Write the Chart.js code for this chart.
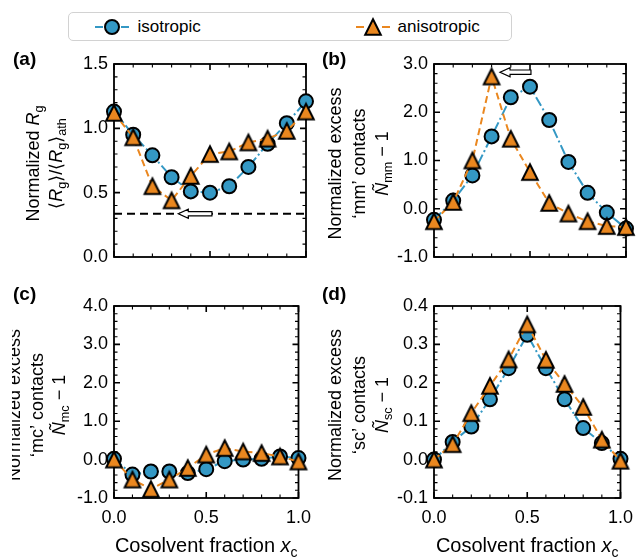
<!DOCTYPE html>
<html lang="en">
<head>
  <meta charset="UTF-8">
  <title>Normalized Rg and excess contacts vs cosolvent fraction</title>
  <script src="https://cdn.jsdelivr.net/npm/chart.js"></script>
  <style>
    body { margin: 0; background: #fff; font-family: "Liberation Sans", Arial, Helvetica, sans-serif; }
    #page { position: relative; width: 642px; height: 558px; overflow: hidden; }
    #page canvas.panel { position: absolute; }
    #legend { position: absolute; left: 68px; top: 12px; width: 442px; height: 27px;
              border: 1.5px solid #d2d2d2; border-radius: 5px; }
    #legend canvas, #legend span { position: absolute; }
    #legend span { font-size: 17px; line-height: 20px; top: 3.5px; color: #000; }
  </style>
</head>
<body>
<div id="page">
  <div id="legend">
    <canvas id="legIso" width="40" height="20" style="left:22.5px;top:3.5px"></canvas>
    <span style="left:68.5px">isotropic</span>
    <canvas id="legAniso" width="40" height="20" style="left:283.5px;top:3.5px"></canvas>
    <span style="left:328.5px">anisotropic</span>
  </div>
  <canvas class="panel" id="panelA" width="320" height="236" style="left:0;top:44px"></canvas>
  <canvas class="panel" id="panelB" width="322" height="236" style="left:320px;top:44px"></canvas>
  <canvas class="panel" id="panelC" width="320" height="278" style="left:0;top:280px"></canvas>
  <canvas class="panel" id="panelD" width="322" height="278" style="left:320px;top:280px"></canvas>
</div>

<script>
  // cosolvent fraction x_c (same for all panels)
  const xFraction = [0.0, 0.1, 0.2, 0.3, 0.4, 0.5, 0.6, 0.7, 0.8, 0.9, 1.0];

  // (a) normalized radius of gyration
  const rgIso   = [1.13, 0.95, 0.79, 0.62, 0.51, 0.50, 0.55, 0.70, 0.88, 1.04, 1.21];
  const rgAniso = [1.12, 0.93, 0.55, 0.44, 0.63, 0.80, 0.82, 0.89, 0.92, 0.98, 1.13];
  const rgRefLevel = 0.336;               // dashed horizontal reference

  // (b) excess 'mm' contacts
  const mmIso   = [-0.23, 0.17, 0.69, 1.50, 2.31, 2.53, 1.84, 0.97, 0.33, -0.08, -0.41];
  const mmAniso = [-0.26, 0.14, 1.00, 2.74, 1.45, 0.76, 0.12, -0.10, -0.26, -0.36, -0.38];

  // (c) excess 'mc' contacts
  const mcIso   = [0.02, -0.39, -0.31, -0.31, -0.35, -0.25, -0.04, 0.00, 0.02, 0.08, 0.04];
  const mcAniso = [0.00, -0.52, -0.77, -0.52, -0.22, 0.13, 0.30, 0.21, 0.17, 0.08, -0.05];

  // (d) excess 'sc' contacts
  const scIso   = [0.000, 0.046, 0.086, 0.157, 0.238, 0.325, 0.238, 0.157, 0.082, 0.043, 0.002];
  const scAniso = [0.000, 0.040, 0.121, 0.192, 0.261, 0.352, 0.260, 0.197, 0.137, 0.052, -0.003];

  // arrows (tail -> tip, data coords)
  const arrowA = [[0.51, 0.336], [0.335, 0.336]];
  const arrowB = [[0.505, 2.83], [0.344, 2.83]];

  // tick labels
  const xTicks  = [0.0, 0.5, 1.0];
  const yTicksA = [0.0, 0.5, 1.0, 1.5];
  const yTicksB = [-1.0, 0.0, 1.0, 2.0, 3.0];
  const yTicksC = [-1.0, 0.0, 1.0, 2.0, 3.0, 4.0];
  const yTicksD = [-0.1, 0.0, 0.1, 0.2, 0.3, 0.4];

  const FONT = '"Liberation Sans", Arial, Helvetica, sans-serif';
  const BLUE = '#3498c4';
  const ORANGE = '#ea871f';
  const DASH_ISO = [10, 3, 2, 3];
  const DASH_ANISO = [7, 4];

  Chart.defaults.font.family = FONT;
  Chart.defaults.color = '#000';

  function triangleMarker(color) {
    const c = document.createElement('canvas');
    c.width = 22; c.height = 22;
    const g = c.getContext('2d');
    g.beginPath();
    g.moveTo(11, 3.2); g.lineTo(18.8, 18.8); g.lineTo(3.2, 18.8); g.closePath();
    g.fillStyle = color; g.fill();
    g.lineWidth = 2; g.strokeStyle = '#000'; g.stroke();
    return c;
  }
  const TRI = triangleMarker(ORANGE);

  // rich text helpers (italic / subscript parts)
  function partFont(p, size) {
    return (p.i ? 'italic ' : '') + (p.sub ? size * 0.7 : size) + 'px ' + FONT;
  }
  function richWidth(ctx, parts, size) {
    let w = 0;
    parts.forEach(p => { ctx.font = partFont(p, size); w += ctx.measureText(p.t).width; });
    return w;
  }
  function drawRich(ctx, parts, x, y, size) {
    parts.forEach(p => {
      ctx.font = partFont(p, size);
      ctx.fillText(p.t, x, y + (p.sub ? size * 0.24 : 0));
      x += ctx.measureText(p.t).width;
    });
  }

  function drawArrow(ctx, x0, y0, x1) {
    const dir = Math.sign(x1 - x0);
    const headLen = 10, headHalf = 4.5, shaftHalf = 2.2;
    const xb = x1 - dir * headLen;
    ctx.beginPath();
    ctx.moveTo(x0, y0 - shaftHalf);
    ctx.lineTo(xb, y0 - shaftHalf);
    ctx.lineTo(xb, y0 - headHalf);
    ctx.lineTo(x1, y0);
    ctx.lineTo(xb, y0 + headHalf);
    ctx.lineTo(xb, y0 + shaftHalf);
    ctx.lineTo(x0, y0 + shaftHalf);
    ctx.closePath();
    ctx.fillStyle = '#fff';
    ctx.fill();
    ctx.lineWidth = 1.2;
    ctx.strokeStyle = '#000';
    ctx.stroke();
  }

  // frame on all four sides with inward major + minor ticks
  const framePlugin = {
    id: 'frame',
    beforeDatasetsDraw(chart, args, opts) {
      const { ctx, chartArea: a, scales } = chart;
      ctx.save();
      ctx.strokeStyle = '#000';
      [true, false].forEach(major => {
        ctx.beginPath();
        ctx.lineWidth = major ? 1.6 : 1.1;
        ['x', 'y'].forEach(id => {
          const s = scales[id];
          const step = id === 'x' ? opts.minorX : opts.minorY;
          const n = Math.round((s.max - s.min) / step);
          for (let k = 0; k <= n; k++) {
            const v = s.min + k * step;
            const isMajor = s.ticks.some(t => Math.abs(t.value - v) < step / 10);
            if (isMajor !== major) continue;
            const len = major ? 6 : 3.5;
            const p = s.getPixelForValue(v);
            if (id === 'x') {
              ctx.moveTo(p, a.bottom); ctx.lineTo(p, a.bottom - len);
              ctx.moveTo(p, a.top); ctx.lineTo(p, a.top + len);
            } else {
              ctx.moveTo(a.left, p); ctx.lineTo(a.left + len, p);
              ctx.moveTo(a.right, p); ctx.lineTo(a.right - len, p);
            }
          }
        });
        ctx.stroke();
      });
      ctx.lineWidth = 1.8;
      ctx.strokeRect(a.left, a.top, a.right - a.left, a.bottom - a.top);
      ctx.restore();
    },
    afterDatasetsDraw(chart, args, opts) {
      if (!opts.arrow) return;
      const { ctx, scales: { x, y } } = chart;
      const [tail, tip] = opts.arrow;
      ctx.save();
      drawArrow(ctx, x.getPixelForValue(tail[0]), y.getPixelForValue(tail[1]), x.getPixelForValue(tip[0]));
      ctx.restore();
    },
    afterDraw(chart, args, opts) {
      const { ctx, chartArea: a } = chart;
      ctx.save();
      ctx.fillStyle = '#000';
      // panel letter
      ctx.font = 'bold 19px ' + FONT;
      ctx.textBaseline = 'alphabetic';
      ctx.fillText(opts.letter, opts.letterX, opts.letterY);
      // rotated multi-line y label
      if (opts.clipLeft) {
        ctx.beginPath();
        ctx.rect(opts.clipLeft, 0, chart.width, chart.height);
        ctx.clip();
      }
      const cy = (a.top + a.bottom) / 2 + 3;
      opts.ylabel.forEach((parts, i) => {
        const w = richWidth(ctx, parts, 18);
        ctx.save();
        ctx.translate(opts.ylabelBase[i], cy);
        ctx.rotate(-Math.PI / 2);
        drawRich(ctx, parts, -w / 2, 0, 18);
        ctx.restore();
      });
      ctx.restore();
      // x title
      if (opts.xtitle) {
        ctx.save();
        const parts = [{ t: 'Cosolvent fraction ' }, { t: 'x', i: 1 }, { t: 'c', sub: 1 }];
        const w = richWidth(ctx, parts, 20);
        ctx.fillStyle = '#000';
        drawRich(ctx, parts, (a.left + a.right) / 2 - w / 2, chart.height - 6, 20);
        ctx.restore();
      }
    }
  };

  function series(label, values, color, dash, style, order) {
    return {
      label: label,
      data: xFraction.map((x, i) => ({ x: x, y: values[i] })),
      borderColor: color,
      backgroundColor: color,
      borderWidth: 2,
      borderDash: dash,
      pointStyle: style,
      pointRadius: 7,
      pointBackgroundColor: color,
      pointBorderColor: '#000',
      pointBorderWidth: 2,
      clip: false,
      order: order
    };
  }

  function makePanel(id, cfg) {
    const el = document.getElementById(id);
    const datasets = [
      series('anisotropic', cfg.aniso, ORANGE, DASH_ANISO, TRI, 0),
      series('isotropic', cfg.iso, BLUE, DASH_ISO, 'circle', 1)
    ];
    if (cfg.refLevel !== undefined) {
      datasets.push({
        label: 'reference',
        data: [{ x: 0, y: cfg.refLevel }, { x: 1, y: cfg.refLevel }],
        borderColor: '#000', borderWidth: 2, borderDash: [8, 5],
        pointRadius: 0, clip: false, order: 2
      });
    }
    return new Chart(el, {
      type: 'line',
      data: { datasets: datasets },
      options: {
        responsive: false,
        animation: false,
        events: [],
        layout: { padding: { left: 0, right: el.width - 306, top: cfg.top, bottom: 0 } },
        scales: {
          x: {
            type: 'linear', min: 0, max: 1,
            afterBuildTicks: s => { s.ticks = xTicks.map(v => ({ value: v })); },
            afterFit: s => { s.height = el.height - cfg.top - cfg.plotH; },
            grid: { display: false, drawTicks: false },
            border: { display: false },
            ticks: { display: cfg.showX, padding: 9, font: { size: 18 }, color: '#000',
                     maxRotation: 0, callback: v => v.toFixed(1) }
          },
          y: {
            type: 'linear', min: cfg.yTicks[0], max: cfg.yTicks[cfg.yTicks.length - 1],
            afterBuildTicks: s => { s.ticks = cfg.yTicks.map(v => ({ value: v })); },
            afterFit: s => { s.width = 114; },
            grid: { display: false, drawTicks: false },
            border: { display: false },
            ticks: { padding: 6, font: { size: 18 }, color: '#000', callback: v => v.toFixed(1) }
          }
        },
        plugins: {
          legend: { display: false },
          tooltip: { enabled: false },
          frame: {
            minorX: 0.1, minorY: cfg.minorY, arrow: cfg.arrow,
            letter: cfg.letter, letterX: cfg.letterX, letterY: cfg.letterY,
            ylabel: cfg.ylabel, ylabelBase: cfg.ylabelBase, clipLeft: cfg.clipLeft,
            xtitle: cfg.showX
          }
        }
      },
      plugins: [framePlugin]
    });
  }

  const excessLabel = (pair, sub) => [
    [{ t: 'Normalized excess' }],
    [{ t: '\u2018' + pair + '\u2019 contacts' }],
    [{ t: '\u00D1', i: 1 }, { t: sub, sub: 1 }, { t: ' \u2212 1' }]
  ];

  makePanel('panelA', {
    iso: rgIso, aniso: rgAniso, refLevel: rgRefLevel, arrow: arrowA,
    yTicks: yTicksA, minorY: 0.1, top: 20, plotH: 193, showX: false,
    letter: '(a)', letterX: 13, letterY: 21,
    ylabel: [
      [{ t: 'Normalized ' }, { t: 'R', i: 1 }, { t: 'g', sub: 1 }],
      [{ t: '\u27E8' }, { t: 'R', i: 1 }, { t: 'g', sub: 1 }, { t: '\u27E9/\u27E8' },
       { t: 'R', i: 1 }, { t: 'g', sub: 1 }, { t: '\u27E9' }, { t: 'ath', sub: 1 }]
    ],
    ylabelBase: [39, 62]
  });

  makePanel('panelB', {
    iso: mmIso, aniso: mmAniso, arrow: arrowB,
    yTicks: yTicksB, minorY: 0.2, top: 20, plotH: 193, showX: false,
    letter: '(b)', letterX: 2, letterY: 21,
    ylabel: excessLabel('mm', 'mm'),
    ylabelBase: [21, 45, 68]
  });

  makePanel('panelC', {
    iso: mcIso, aniso: mcAniso,
    yTicks: yTicksC, minorY: 0.2, top: 26, plotH: 192, showX: true,
    letter: '(c)', letterX: 13, letterY: 20,
    ylabel: excessLabel('mc', 'mc'),
    ylabelBase: [20, 43, 65], clipLeft: 12
  });

  makePanel('panelD', {
    iso: scIso, aniso: scAniso,
    yTicks: yTicksD, minorY: 0.02, top: 26, plotH: 192, showX: true,
    letter: '(d)', letterX: 2, letterY: 20,
    ylabel: excessLabel('sc', 'sc'),
    ylabelBase: [21, 45, 68]
  });

  // legend icons
  function legendIcon(id, color, marker) {
    const g = document.getElementById(id).getContext('2d');
    g.strokeStyle = color;
    g.lineWidth = 2;
    g.beginPath();
    g.moveTo(3, 10); g.lineTo(11, 10);
    g.moveTo(29, 10); g.lineTo(37, 10);
    g.stroke();
    if (marker === 'circle') {
      g.beginPath();
      g.arc(20, 10, 7, 0, Math.PI * 2);
      g.fillStyle = color; g.fill();
      g.lineWidth = 2; g.strokeStyle = '#000'; g.stroke();
    } else {
      g.drawImage(marker, 9, -1);
    }
  }
  legendIcon('legIso', BLUE, 'circle');
  legendIcon('legAniso', ORANGE, TRI);
</script>
</body>
</html>
